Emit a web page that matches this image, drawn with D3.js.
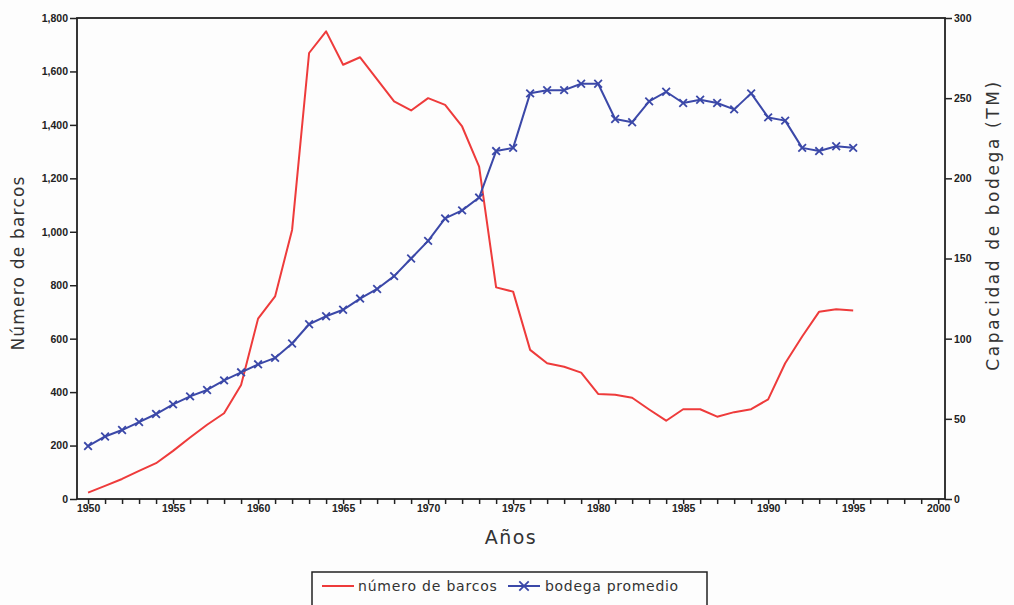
<!DOCTYPE html>
<html>
<head>
<meta charset="utf-8">
<script src="https://cdn.jsdelivr.net/npm/d3@7"></script>
<style>
  body { margin: 0; background: #fdfdfd; }
  svg { display: block; }
  .tick text { font-family: "Liberation Sans", Arial, sans-serif; font-weight: bold; font-size: 10.5px; fill: #222; }
  .title { font-family: "DejaVu Sans", sans-serif; fill: #333; }
</style>
</head>
<body>
<svg id="chart" width="1014" height="605"></svg>
<script>
// years on the x axis
const years = d3.range(1950, 1996);

// número de barcos (left axis)
const barcos = [24, 49, 75, 105, 134, 180, 230, 278, 321, 427,
  675, 758, 1007, 1669, 1750, 1625, 1653, 1570, 1488, 1454,
  1500, 1475, 1394, 1244, 792, 776, 558, 508, 495, 473,
  393, 390, 379, 335, 293, 336, 336, 308, 325, 336,
  373, 508, 608, 701, 710, 705];

// bodega promedio, TM (right axis)
const bodega = [33, 39, 43, 48, 53, 59, 64, 68, 74, 79,
  84, 88, 97, 109, 114, 118, 125, 131, 139, 150,
  161, 175, 180, 188, 217, 219, 253, 255, 255, 259,
  259, 237, 235, 248, 254, 247, 249, 247, 243, 253,
  238, 236, 219, 217, 220, 219];

const leftTicks = d3.range(0, 1801, 200);
const rightTicks = d3.range(0, 301, 50);
const yearLabels = d3.range(1950, 2001, 5);

const svg = d3.select('#chart');
const m = { left: 77, right: 945, top: 18, bottom: 499 };

const x = d3.scaleLinear().domain([1949.35, 2000.4]).range([m.left, m.right]);
const yL = d3.scaleLinear().domain([0, 1800]).range([m.bottom, m.top]);
const yR = d3.scaleLinear().domain([0, 300]).range([m.bottom, m.top]);

const red = '#ee3b3b';
const blue = '#3b48a8';

// frame
svg.append('rect')
  .attr('x', m.left).attr('y', m.top)
  .attr('width', m.right - m.left).attr('height', m.bottom - m.top)
  .attr('fill', 'none').attr('stroke', '#222').attr('stroke-width', 1.8);

// left axis
svg.append('g')
  .attr('transform', `translate(${m.left},0)`)
  .call(d3.axisLeft(yL).tickValues(leftTicks).tickFormat(d3.format(',')).tickSize(7).tickPadding(2))
  .call(g => g.select('.domain').remove())
  .call(g => g.selectAll('.tick line').attr('stroke', '#222').attr('stroke-width', 1.5));

// right axis
svg.append('g')
  .attr('transform', `translate(${m.right},0)`)
  .call(d3.axisRight(yR).tickValues(rightTicks).tickSize(7).tickPadding(2))
  .call(g => g.select('.domain').remove())
  .call(g => g.selectAll('.tick line').attr('stroke', '#222').attr('stroke-width', 1.5));

// bottom axis: a tick every year, labels every 5 years
svg.append('g')
  .attr('transform', `translate(0,${m.bottom})`)
  .call(d3.axisBottom(x).tickValues(d3.range(1950, 2001)).tickSize(5)
    .tickFormat(d => yearLabels.includes(d) ? d : ''))
  .call(g => g.select('.domain').remove())
  .call(g => g.selectAll('.tick line').attr('stroke', '#222').attr('stroke-width', 1.5))
  .call(g => g.selectAll('.tick text').attr('dy', '0.5em'));

// lines
const lineRed = d3.line().x((d, i) => x(years[i])).y(d => yL(d));
const lineBlue = d3.line().x((d, i) => x(years[i])).y(d => yR(d));

svg.append('path').datum(barcos)
  .attr('d', lineRed).attr('fill', 'none')
  .attr('stroke', red).attr('stroke-width', 2).attr('stroke-linejoin', 'round');

svg.append('path').datum(bodega)
  .attr('d', lineBlue).attr('fill', 'none')
  .attr('stroke', blue).attr('stroke-width', 2).attr('stroke-linejoin', 'round');

const cross = d3.symbol().type(d3.symbolX).size(40);
svg.append('g').selectAll('path')
  .data(bodega)
  .join('path')
  .attr('transform', (d, i) => `translate(${x(years[i])},${yR(d)})`)
  .attr('d', cross)
  .attr('fill', 'none').attr('stroke', blue).attr('stroke-width', 1.8);

// axis titles
svg.append('text').attr('class', 'title')
  .attr('transform', 'translate(24,263) rotate(-90)')
  .attr('text-anchor', 'middle').attr('font-size', 17).attr('letter-spacing', 1.2)
  .text('Número de barcos');

svg.append('text').attr('class', 'title')
  .attr('transform', 'translate(999,225) rotate(-90)')
  .attr('text-anchor', 'middle').attr('font-size', 17).attr('letter-spacing', 2.6)
  .text('Capacidad de bodega (TM)');

svg.append('text').attr('class', 'title')
  .attr('x', 511).attr('y', 544)
  .attr('text-anchor', 'middle').attr('font-size', 19).attr('letter-spacing', 1.5)
  .text('Años');

// legend
const lg = svg.append('g');
lg.append('rect')
  .attr('x', 312).attr('y', 572).attr('width', 395).attr('height', 45)
  .attr('fill', 'none').attr('stroke', '#222').attr('stroke-width', 1.5);
lg.append('line')
  .attr('x1', 322).attr('x2', 354).attr('y1', 586).attr('y2', 586)
  .attr('stroke', red).attr('stroke-width', 2);
lg.append('text').attr('class', 'title')
  .attr('x', 358).attr('y', 591).attr('font-size', 14).attr('letter-spacing', 0.8)
  .text('número de barcos');
lg.append('line')
  .attr('x1', 508).attr('x2', 540).attr('y1', 586).attr('y2', 586)
  .attr('stroke', blue).attr('stroke-width', 2);
lg.append('path')
  .attr('transform', 'translate(524,586)')
  .attr('d', d3.symbol().type(d3.symbolX).size(60))
  .attr('fill', 'none').attr('stroke', blue).attr('stroke-width', 1.8);
lg.append('text').attr('class', 'title')
  .attr('x', 545).attr('y', 591).attr('font-size', 14).attr('letter-spacing', 0.7)
  .text('bodega promedio');
</script>
</body>
</html>
